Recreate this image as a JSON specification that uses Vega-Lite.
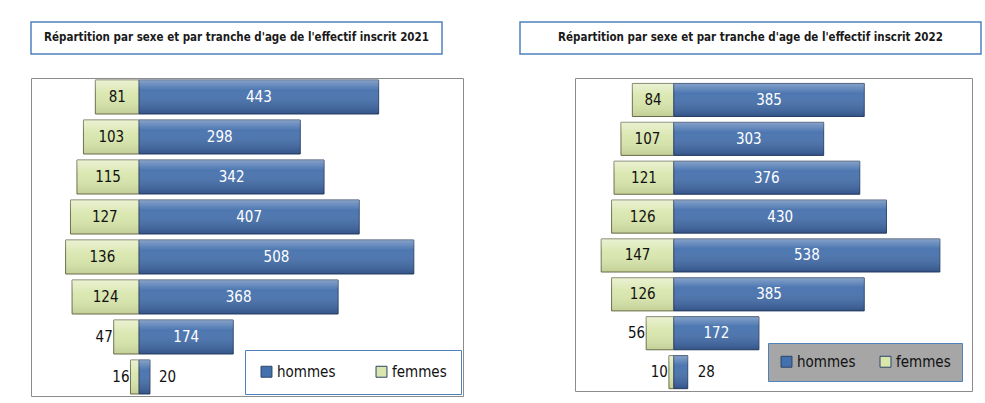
{
  "$schema": "https://vega.github.io/schema/vega-lite/v6.json",
  "background": "white",
  "padding": {"left": 30, "top": 21, "right": 0, "bottom": 0},
  "autosize": {"type": "pad"},
  "datasets": {
    "titres": [
      {"annee": 2021, "titre": "Répartition par sexe et par tranche d'age de l'effectif  inscrit 2021"},
      {"annee": 2022, "titre": "Répartition par sexe et par tranche d'age de l'effectif   inscrit 2022"}
    ],
    "effectifs": [
      {"annee": 2021, "tranche": "T1", "sexe": "femmes", "effectif": 81},
      {"annee": 2021, "tranche": "T1", "sexe": "hommes", "effectif": 443},
      {"annee": 2021, "tranche": "T2", "sexe": "femmes", "effectif": 103},
      {"annee": 2021, "tranche": "T2", "sexe": "hommes", "effectif": 298},
      {"annee": 2021, "tranche": "T3", "sexe": "femmes", "effectif": 115},
      {"annee": 2021, "tranche": "T3", "sexe": "hommes", "effectif": 342},
      {"annee": 2021, "tranche": "T4", "sexe": "femmes", "effectif": 127},
      {"annee": 2021, "tranche": "T4", "sexe": "hommes", "effectif": 407},
      {"annee": 2021, "tranche": "T5", "sexe": "femmes", "effectif": 136},
      {"annee": 2021, "tranche": "T5", "sexe": "hommes", "effectif": 508},
      {"annee": 2021, "tranche": "T6", "sexe": "femmes", "effectif": 124},
      {"annee": 2021, "tranche": "T6", "sexe": "hommes", "effectif": 368},
      {"annee": 2021, "tranche": "T7", "sexe": "femmes", "effectif": 47},
      {"annee": 2021, "tranche": "T7", "sexe": "hommes", "effectif": 174},
      {"annee": 2021, "tranche": "T8", "sexe": "femmes", "effectif": 16},
      {"annee": 2021, "tranche": "T8", "sexe": "hommes", "effectif": 20},
      {"annee": 2022, "tranche": "T1", "sexe": "femmes", "effectif": 84},
      {"annee": 2022, "tranche": "T1", "sexe": "hommes", "effectif": 385},
      {"annee": 2022, "tranche": "T2", "sexe": "femmes", "effectif": 107},
      {"annee": 2022, "tranche": "T2", "sexe": "hommes", "effectif": 303},
      {"annee": 2022, "tranche": "T3", "sexe": "femmes", "effectif": 121},
      {"annee": 2022, "tranche": "T3", "sexe": "hommes", "effectif": 376},
      {"annee": 2022, "tranche": "T4", "sexe": "femmes", "effectif": 126},
      {"annee": 2022, "tranche": "T4", "sexe": "hommes", "effectif": 430},
      {"annee": 2022, "tranche": "T5", "sexe": "femmes", "effectif": 147},
      {"annee": 2022, "tranche": "T5", "sexe": "hommes", "effectif": 538},
      {"annee": 2022, "tranche": "T6", "sexe": "femmes", "effectif": 126},
      {"annee": 2022, "tranche": "T6", "sexe": "hommes", "effectif": 385},
      {"annee": 2022, "tranche": "T7", "sexe": "femmes", "effectif": 56},
      {"annee": 2022, "tranche": "T7", "sexe": "hommes", "effectif": 172},
      {"annee": 2022, "tranche": "T8", "sexe": "femmes", "effectif": 10},
      {"annee": 2022, "tranche": "T8", "sexe": "hommes", "effectif": 28}
    ]
  },
  "config": {
    "font": "DejaVu Sans Condensed, DejaVu Sans, sans-serif",
    "view": {"stroke": null},
    "text": {"font": "DejaVu Sans Condensed, DejaVu Sans, sans-serif"}
  },
  "spacing": 22,
  "vconcat": [
    {
      "spacing": 76,
      "hconcat": [
        {
          "width": 411, "height": 32,
          "view": {"stroke": "#4f81bd", "strokeWidth": 1.5, "fill": "white"},
          "data": {"name": "titres"},
          "transform": [{"filter": "datum.annee == 2021"}],
          "mark": {"type": "text", "fontSize": 11.5, "fontWeight": "bold", "color": "#1a1a1a"},
          "encoding": {"text": {"field": "titre"}}
        },
        {
          "width": 461, "height": 32,
          "view": {"stroke": "#4f81bd", "strokeWidth": 1.5, "fill": "white"},
          "data": {"name": "titres"},
          "transform": [{"filter": "datum.annee == 2022"}],
          "mark": {"type": "text", "fontSize": 11.5, "fontWeight": "bold", "color": "#1a1a1a"},
          "encoding": {"text": {"field": "titre"}}
        }
      ]
    },
    {
      "spacing": 110,
      "resolve": {"scale": {"color": "independent"}, "legend": {"color": "independent"}},
      "hconcat": [
        {
          "width": 432, "height": 318,
          "view": {"stroke": "#8c8c8c", "strokeWidth": 1},
          "data": {"name": "effectifs"},
          "transform": [{"filter": "datum.annee == 2021"}],
          "resolve": {"scale": {"x": "independent"}},
          "encoding": {
            "y": {"field": "tranche", "type": "ordinal", "sort": null, "scale": {"paddingInner": 0.15, "paddingOuter": 0.05}, "axis": null}
          },
          "layer": [
            {
              "transform": [{"filter": "datum.sexe == 'femmes'"}],
              "mark": {"type": "bar", "stroke": "#6a6d4e", "strokeWidth": 1},
              "encoding": {
                "x": {"field": "effectif", "type": "quantitative", "scale": {"domain": [-599, 200], "reverse": true, "nice": false}, "axis": null},
                "x2": {"datum": 0},
                "color": {"field": "sexe", "type": "nominal",
                  "scale": {"domain": ["hommes", "femmes"], "range": ["#4470ad", "#d9e6ad"]},
                  "legend": {"orient": "bottom-right", "direction": "horizontal", "title": null, "offset": 2,
                    "fillColor": "white", "strokeColor": "#4f81bd", "padding": 14, "columnPadding": 38,
                    "symbolType": "square", "symbolSize": 120, "symbolStrokeColor": "#3a3a3a", "symbolStrokeWidth": 1,
                    "labelFontSize": 15, "labelColor": "#111111", "labelFont": "DejaVu Sans Condensed, DejaVu Sans, sans-serif", "labelOffset": 3}}
              }
            },
            {
              "transform": [{"filter": "datum.sexe == 'femmes'"}],
              "mark": {"type": "bar", "color": {"gradient": "linear", "x1": 0, "y1": 0, "x2": 0, "y2": 1, "stops": [{"offset": 0, "color": "rgba(255,255,255,0.45)"}, {"offset": 0.4, "color": "rgba(255,255,255,0.05)"}, {"offset": 1, "color": "rgba(90,100,40,0.18)"}]}},
              "encoding": {
                "x": {"field": "effectif", "type": "quantitative", "scale": {"domain": [-599, 200], "reverse": true, "nice": false}, "axis": null},
                "x2": {"datum": 0}
              }
            },
            {
              "transform": [{"filter": "datum.sexe == 'hommes'"}],
              "mark": {"type": "bar", "stroke": "#2d4468", "strokeWidth": 1},
              "encoding": {
                "x": {"field": "effectif", "type": "quantitative", "scale": {"domain": [-200, 599], "nice": false}, "axis": null},
                "x2": {"datum": 0},
                "color": {"field": "sexe", "type": "nominal", "scale": {"domain": ["hommes", "femmes"], "range": ["#4470ad", "#d9e6ad"]}}
              }
            },
            {
              "transform": [{"filter": "datum.sexe == 'hommes'"}],
              "mark": {"type": "bar", "color": {"gradient": "linear", "x1": 0, "y1": 0, "x2": 0, "y2": 1, "stops": [{"offset": 0, "color": "rgba(255,255,255,0.35)"}, {"offset": 0.3, "color": "rgba(255,255,255,0.05)"}, {"offset": 1, "color": "rgba(0,0,30,0.25)"}]}},
              "encoding": {
                "x": {"field": "effectif", "type": "quantitative", "scale": {"domain": [-200, 599], "nice": false}, "axis": null},
                "x2": {"datum": 0}
              }
            },
            {
              "transform": [{"filter": "datum.sexe == 'hommes' && datum.effectif >= 100"}],
              "mark": {"type": "text", "color": "white", "fontSize": 15, "align": "center", "baseline": "middle"},
              "encoding": {
                "x": {"field": "effectif", "type": "quantitative", "scale": {"domain": [-400, 1198], "nice": false}, "axis": null},
                "text": {"field": "effectif", "type": "quantitative"}
              }
            },
            {
              "transform": [{"filter": "datum.sexe == 'hommes' && datum.effectif < 100"}],
              "mark": {"type": "text", "color": "#111111", "fontSize": 15, "align": "left", "baseline": "middle", "dx": 9},
              "encoding": {
                "x": {"field": "effectif", "type": "quantitative", "scale": {"domain": [-200, 599], "nice": false}, "axis": null},
                "text": {"field": "effectif", "type": "quantitative"}
              }
            },
            {
              "transform": [{"filter": "datum.sexe == 'femmes' && datum.effectif >= 60"}],
              "mark": {"type": "text", "color": "#111111", "fontSize": 15, "align": "center", "baseline": "middle"},
              "encoding": {
                "x": {"field": "effectif", "type": "quantitative", "scale": {"domain": [-1198, 400], "reverse": true, "nice": false}, "axis": null},
                "text": {"field": "effectif", "type": "quantitative"}
              }
            },
            {
              "transform": [{"filter": "datum.sexe == 'femmes' && datum.effectif < 60"}],
              "mark": {"type": "text", "color": "#111111", "fontSize": 15, "align": "right", "baseline": "middle", "dx": -1},
              "encoding": {
                "x": {"field": "effectif", "type": "quantitative", "scale": {"domain": [-599, 200], "reverse": true, "nice": false}, "axis": null},
                "text": {"field": "effectif", "type": "quantitative"}
              }
            }
          ]
        },
        {
          "width": 397, "height": 313,
          "view": {"stroke": "#8c8c8c", "strokeWidth": 1},
          "data": {"name": "effectifs"},
          "transform": [{"filter": "datum.annee == 2022"}],
          "resolve": {"scale": {"x": "independent"}},
          "encoding": {
            "y": {"field": "tranche", "type": "ordinal", "sort": null, "scale": {"paddingInner": 0.15, "paddingOuter": 0.1, "align": 0.7}, "axis": null}
          },
          "layer": [
            {
              "transform": [{"filter": "datum.sexe == 'femmes'"}],
              "mark": {"type": "bar", "stroke": "#6a6d4e", "strokeWidth": 1},
              "encoding": {
                "x": {"field": "effectif", "type": "quantitative", "scale": {"domain": [-603, 200], "reverse": true, "nice": false}, "axis": null},
                "x2": {"datum": 0},
                "color": {"field": "sexe", "type": "nominal",
                  "scale": {"domain": ["hommes", "femmes"], "range": ["#4470ad", "#d9e6ad"]},
                  "legend": {"orient": "bottom-right", "direction": "horizontal", "title": null, "offset": 10,
                    "fillColor": "#a6a6a6", "strokeColor": "#4f81bd", "padding": 11, "columnPadding": 22,
                    "symbolType": "square", "symbolSize": 120, "symbolStrokeColor": "#3a3a3a", "symbolStrokeWidth": 1,
                    "labelFontSize": 15, "labelColor": "#111111", "labelFont": "DejaVu Sans Condensed, DejaVu Sans, sans-serif", "labelOffset": 3}}
              }
            },
            {
              "transform": [{"filter": "datum.sexe == 'femmes'"}],
              "mark": {"type": "bar", "color": {"gradient": "linear", "x1": 0, "y1": 0, "x2": 0, "y2": 1, "stops": [{"offset": 0, "color": "rgba(255,255,255,0.45)"}, {"offset": 0.4, "color": "rgba(255,255,255,0.05)"}, {"offset": 1, "color": "rgba(90,100,40,0.18)"}]}},
              "encoding": {
                "x": {"field": "effectif", "type": "quantitative", "scale": {"domain": [-603, 200], "reverse": true, "nice": false}, "axis": null},
                "x2": {"datum": 0}
              }
            },
            {
              "transform": [{"filter": "datum.sexe == 'hommes'"}],
              "mark": {"type": "bar", "stroke": "#2d4468", "strokeWidth": 1},
              "encoding": {
                "x": {"field": "effectif", "type": "quantitative", "scale": {"domain": [-200, 603], "nice": false}, "axis": null},
                "x2": {"datum": 0},
                "color": {"field": "sexe", "type": "nominal", "scale": {"domain": ["hommes", "femmes"], "range": ["#4470ad", "#d9e6ad"]}}
              }
            },
            {
              "transform": [{"filter": "datum.sexe == 'hommes'"}],
              "mark": {"type": "bar", "color": {"gradient": "linear", "x1": 0, "y1": 0, "x2": 0, "y2": 1, "stops": [{"offset": 0, "color": "rgba(255,255,255,0.35)"}, {"offset": 0.3, "color": "rgba(255,255,255,0.05)"}, {"offset": 1, "color": "rgba(0,0,30,0.25)"}]}},
              "encoding": {
                "x": {"field": "effectif", "type": "quantitative", "scale": {"domain": [-200, 603], "nice": false}, "axis": null},
                "x2": {"datum": 0}
              }
            },
            {
              "transform": [{"filter": "datum.sexe == 'hommes' && datum.effectif >= 100"}],
              "mark": {"type": "text", "color": "white", "fontSize": 15, "align": "center", "baseline": "middle"},
              "encoding": {
                "x": {"field": "effectif", "type": "quantitative", "scale": {"domain": [-400, 1206], "nice": false}, "axis": null},
                "text": {"field": "effectif", "type": "quantitative"}
              }
            },
            {
              "transform": [{"filter": "datum.sexe == 'hommes' && datum.effectif < 100"}],
              "mark": {"type": "text", "color": "#111111", "fontSize": 15, "align": "left", "baseline": "middle", "dx": 10},
              "encoding": {
                "x": {"field": "effectif", "type": "quantitative", "scale": {"domain": [-200, 603], "nice": false}, "axis": null},
                "text": {"field": "effectif", "type": "quantitative"}
              }
            },
            {
              "transform": [{"filter": "datum.sexe == 'femmes' && datum.effectif >= 60"}],
              "mark": {"type": "text", "color": "#111111", "fontSize": 15, "align": "center", "baseline": "middle"},
              "encoding": {
                "x": {"field": "effectif", "type": "quantitative", "scale": {"domain": [-1206, 400], "reverse": true, "nice": false}, "axis": null},
                "text": {"field": "effectif", "type": "quantitative"}
              }
            },
            {
              "transform": [{"filter": "datum.sexe == 'femmes' && datum.effectif < 60"}],
              "mark": {"type": "text", "color": "#111111", "fontSize": 15, "align": "right", "baseline": "middle", "dx": -1},
              "encoding": {
                "x": {"field": "effectif", "type": "quantitative", "scale": {"domain": [-603, 200], "reverse": true, "nice": false}, "axis": null},
                "text": {"field": "effectif", "type": "quantitative"}
              }
            }
          ]
        }
      ]
    }
  ]
}
